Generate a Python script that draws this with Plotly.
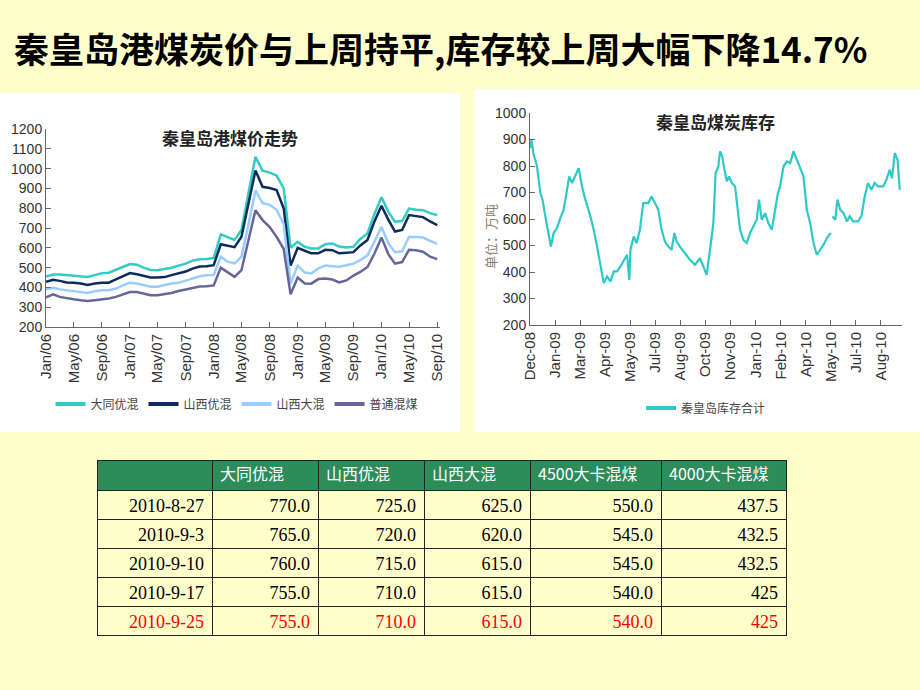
import plotly.graph_objects as go
import pandas as pd

# ---------------- data ----------------
price_dates = [d.strftime("%Y-%m-%d") for d in pd.date_range("2006-01-01", periods=57, freq="MS")]
datong_youhun = [455, 465, 465, 462, 462, 457, 453, 462, 472, 474, 487, 503, 518, 515, 500, 488, 487, 494, 499, 510,
                 520, 535, 542, 543, 548, 668, 656, 640, 690, 870, 1060, 990, 980, 965, 900, 600, 630, 605, 597, 597,
                 618, 622, 606, 602, 605, 645, 672, 770, 855, 780, 732, 735, 798, 792, 790, 775, 765]
shanxi_youhun = [428, 438, 433, 425, 423, 420, 412, 420, 423, 424, 440, 456, 472, 466, 458, 450, 450, 452, 462, 470,
                 480, 495, 505, 507, 512, 618, 609, 603, 656, 830, 990, 908, 902, 892, 800, 510, 600, 585, 572, 572,
                 590, 588, 572, 575, 578, 612, 640, 732, 812, 740, 682, 690, 765, 760, 755, 733, 715]
shanxi_dahun = [390, 398, 390, 386, 381, 377, 372, 381, 386, 386, 394, 410, 423, 420, 411, 403, 403, 410, 420, 423,
                433, 445, 456, 461, 463, 555, 530, 521, 555, 720, 890, 825, 817, 792, 720, 420, 510, 475, 470, 496,
                510, 507, 504, 512, 520, 538, 562, 630, 705, 620, 578, 582, 655, 655, 652, 635, 620]
putong_hunmei = [350, 365, 352, 344, 340, 335, 331, 335, 338, 344, 352, 365, 377, 377, 369, 360, 360, 366, 372, 382,
                 389, 398, 405, 406, 410, 500, 475, 453, 487, 640, 790, 740, 705, 655, 595, 365, 450, 420, 419, 442,
                 445, 440, 425, 435, 460, 478, 503, 570, 652, 565, 520, 528, 590, 588, 580, 555, 543]
price_names = ["大同优混", "山西优混", "山西大混", "普通混煤"]

stock_dates = ["2008-12-01", "2008-12-03", "2008-12-07", "2008-12-13", "2008-12-19", "2008-12-23", "2008-12-28",
               "2009-01-03", "2009-01-07", "2009-01-12", "2009-01-18", "2009-01-24", "2009-01-30", "2009-02-05",
               "2009-02-09", "2009-02-14", "2009-02-20", "2009-02-26", "2009-03-04", "2009-03-10", "2009-03-19",
               "2009-03-25", "2009-03-31", "2009-04-06", "2009-04-12", "2009-04-18", "2009-04-24", "2009-04-30",
               "2009-05-06", "2009-05-12", "2009-05-18", "2009-05-24", "2009-05-28", "2009-05-30", "2009-06-05",
               "2009-06-10", "2009-06-16", "2009-06-22", "2009-07-01", "2009-07-07", "2009-07-13", "2009-07-19",
               "2009-07-25", "2009-07-31", "2009-08-06", "2009-08-12", "2009-08-17", "2009-08-21", "2009-08-27",
               "2009-09-05", "2009-09-14", "2009-09-23", "2009-10-02", "2009-10-08", "2009-10-14", "2009-10-20",
               "2009-10-26", "2009-10-30", "2009-11-04", "2009-11-07", "2009-11-11", "2009-11-15", "2009-11-19",
               "2009-11-23", "2009-11-28", "2009-12-04", "2009-12-10", "2009-12-13", "2009-12-19", "2009-12-25",
               "2009-12-31", "2010-01-06", "2010-01-12", "2010-01-16", "2010-01-21", "2010-01-27", "2010-02-02",
               "2010-02-08", "2010-02-14", "2010-02-19", "2010-02-23", "2010-03-01", "2010-03-07", "2010-03-13",
               "2010-03-19", "2010-03-25", "2010-03-31", "2010-04-06", "2010-04-12", "2010-04-18", "2010-04-24",
               "2010-04-30", "2010-05-06", "2010-05-12", "2010-05-18", "2010-05-25", "2010-05-26", "2010-05-28",
               "2010-06-02", "2010-06-06", "2010-06-11", "2010-06-17", "2010-06-23", "2010-06-28", "2010-07-04",
               "2010-07-13", "2010-07-19", "2010-07-25", "2010-07-31", "2010-08-06", "2010-08-12", "2010-08-18",
               "2010-08-27", "2010-09-02", "2010-09-08", "2010-09-12", "2010-09-17", "2010-09-22", "2010-09-26"]
stock_values = [868, 900, 843, 800, 700, 673, 610, 534, 496, 547, 566, 603, 635, 710, 761, 736, 761, 792, 723, 673,
                610, 559, 496, 421, 358, 383, 364, 402, 402, 421, 446, 465, 370, 484, 534, 509, 559, 660, 660, 685,
                660, 635, 559, 515, 496, 484, 547, 515, 496, 471, 446, 427, 452, 421, 389, 484, 584, 773, 798, 855,
                836, 786, 742, 761, 736, 723, 622, 559, 521, 509, 547, 572, 597, 673, 597, 622, 584, 559, 635, 698,
                723, 798, 817, 811, 855, 824, 798, 761, 635, 584, 509, 465, 484, 503, 528, 547, None, 610, 597, 673,
                635, 622, 591, 610, 591, 591, 610, 685, 736, 710, 736, 723, 723, 748, 786, 754, 849, 824, 710]
stock_name = "秦皇岛库存合计"

table_header = ["", "大同优混", "山西优混", "山西大混", "4500大卡混煤", "4000大卡混煤"]
table_dates = ["2010-8-27", "2010-9-3", "2010-9-10", "2010-9-17", "2010-9-25"]
t_datong = [770, 765, 760, 755, 755]
t_shanxi_you = [725, 720, 715, 710, 710]
t_shanxi_da = [625, 620, 615, 615, 615]
t_mix4500 = [550, 545, 545, 540, 540]
t_mix4000 = [437.5, 432.5, 432.5, 425, 425]

# ---------------- style ----------------
W, H = 920, 690
BG = "#FFFFCC"
CJK = "Noto Sans CJK SC"
price_colors = ["#33CCC4", "#0D2B5C", "#99CCFF", "#666699"]
stock_color = "#2EC8C8"


def px(x):
    return x / W


def py(y):
    return 1 - y / H


fig = go.Figure()

price_series = [datong_youhun, shanxi_youhun, shanxi_dahun, putong_hunmei]
for name, vals, col in zip(price_names, price_series, price_colors):
    fig.add_trace(go.Scatter(x=price_dates, y=vals, mode="lines", name=name,
                             line=dict(color=col, width=2.5), showlegend=False,
                             xaxis="x", yaxis="y"))
for name, col in zip(price_names, price_colors):
    fig.add_trace(go.Scatter(x=[None], y=[None], mode="lines", name=name,
                             line=dict(color=col, width=4), xaxis="x", yaxis="y",
                             legend="legend"))

fig.add_trace(go.Scatter(x=stock_dates, y=stock_values, mode="lines", name=stock_name,
                         line=dict(color=stock_color, width=2.2), connectgaps=False,
                         showlegend=False, xaxis="x2", yaxis="y2"))
fig.add_trace(go.Scatter(x=[None], y=[None], mode="lines", name=stock_name,
                         line=dict(color=stock_color, width=4), xaxis="x2", yaxis="y2",
                         legend="legend2"))

fmt1 = lambda arr: [f"{v:.1f}" for v in arr]
fmtg = lambda arr: [format(v, "g") for v in arr]
body_colors = ["#000000"] * 4 + ["#FF0000"]
fig.add_trace(go.Table(
    domain=dict(x=[px(97), px(786)], y=[py(640), py(460)]),
    columnwidth=[115, 106, 106, 106, 131, 125],
    header=dict(values=table_header, fill_color="#2E8B5A",
                line=dict(color="#222222", width=1), align="left", height=30,
                font=dict(family=CJK, size=16, color="white")),
    cells=dict(values=[table_dates, fmt1(t_datong), fmt1(t_shanxi_you), fmt1(t_shanxi_da),
                       fmt1(t_mix4500), fmtg(t_mix4000)],
               fill_color="#FFFFCC", line=dict(color="#222222", width=1), align="right",
               height=29, font=dict(family="Liberation Serif, serif", size=18,
                                    color=[body_colors] * 6)),
))

axis_common = dict(showgrid=False, zeroline=False, showline=True, linecolor="#666666",
                   linewidth=1, ticks="inside", ticklen=5, tickcolor="#666666")
xfont = dict(family="Liberation Sans, Arial", size=15, color="#333333")
yfont = dict(family="Liberation Sans Narrow, Arial Narrow, Liberation Sans", size=14, color="#333333")

fig.update_layout(
    width=W, height=H, autosize=False,
    margin=dict(l=0, r=0, t=0, b=0, pad=0, autoexpand=False),
    paper_bgcolor=BG, plot_bgcolor="rgba(0,0,0,0)",
    xaxis=dict(domain=[px(46), px(440)], anchor="y", type="date",
               range=["2005-12-31 12:00", "2010-09-13"], tick0="2006-01-01", dtick="M4",
               tickformat="%b/%y", tickangle=-90, tickfont=xfont, **axis_common),
    yaxis=dict(domain=[py(327), py(129)], anchor="x", range=[200, 1200], dtick=100,
               tickfont=yfont, **axis_common),
    xaxis2=dict(domain=[px(530), px(902)], anchor="y2", type="date",
                range=["2008-11-30 12:00", "2010-09-30"], tick0="2008-12-01",
                dtick=45 * 86400000, tickformat="%b-%y", tickangle=-90, tickfont=xfont,
                **axis_common),
    yaxis2=dict(domain=[py(325), py(113)], anchor="x2", range=[200, 1000], dtick=100,
                tickfont=yfont, **axis_common),
    legend=dict(orientation="h", x=px(237), xanchor="center", y=py(404), yanchor="middle",
                bgcolor="rgba(0,0,0,0)", font=dict(family=CJK, size=12, color="#444444"),
                itemwidth=30),
    legend2=dict(orientation="h", x=px(706), xanchor="center", y=py(408), yanchor="middle",
                 bgcolor="rgba(0,0,0,0)", font=dict(family=CJK, size=12, color="#444444"),
                 itemwidth=30),
    shapes=[
        dict(type="rect", xref="paper", yref="paper", x0=0, x1=px(460), y0=py(432), y1=py(93),
             fillcolor="white", line=dict(width=0), layer="below"),
        dict(type="rect", xref="paper", yref="paper", x0=px(474), x1=1, y0=py(432), y1=py(89),
             fillcolor="white", line=dict(width=0), layer="below"),
    ],
    annotations=[
        dict(text="<b>秦皇岛港煤炭价与上周持平,库存较上周大幅下降14.7%</b>", xref="paper", yref="paper",
             x=px(12), y=py(47), xanchor="left", yanchor="middle", showarrow=False,
             font=dict(family=CJK, size=35, color="black")),
        dict(text="<b>秦皇岛港煤价走势</b>", xref="paper", yref="paper", x=px(230), y=py(138),
             xanchor="center", yanchor="middle", showarrow=False,
             font=dict(family=CJK, size=17, color="#222222")),
        dict(text="<b>秦皇岛煤炭库存</b>", xref="paper", yref="paper", x=px(715), y=py(122),
             xanchor="center", yanchor="middle", showarrow=False,
             font=dict(family=CJK, size=17, color="#222222")),
        dict(text="单位：万吨", xref="paper", yref="paper", x=px(490), y=py(237), textangle=-90,
             xanchor="center", yanchor="middle", showarrow=False,
             font=dict(family=CJK, size=13, color="#8B7D6B")),
    ],
)

fig.write_html("out.html", config={"displayModeBar": False},
               post_script="document.body.style.margin='0';document.body.style.padding='0';")
